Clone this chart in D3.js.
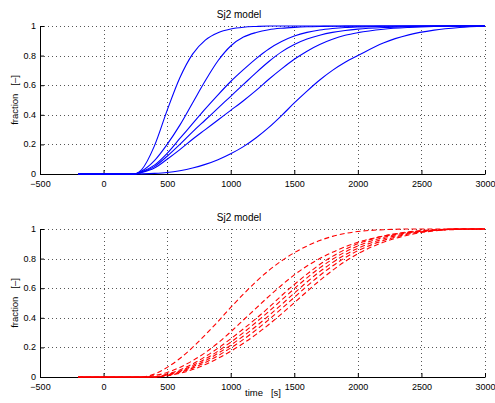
<!DOCTYPE html>
<html>
<head>
<meta charset="utf-8">
<script src="https://cdn.jsdelivr.net/npm/d3@7"></script>
<style>
  body { margin: 0; background: #fff; }
  text { font-family: "Liberation Sans", Arial, sans-serif; fill: #000; }
</style>
</head>
<body>
<svg width="495" height="403"></svg>
<script>
// ticks
const xTicks = [-500, 0, 500, 1000, 1500, 2000, 2500, 3000];
const yTicks = [0, 0.2, 0.4, 0.6, 0.8, 1];

// top panel, solid blue curves
const timeTop = [-200, 0, 240, 300, 400, 500, 600, 700, 800, 900, 1000, 1100, 1200,
  1300, 1400, 1500, 1600, 1700, 1800, 1900, 2000, 2200, 2400, 2600, 2800, 3000];
const topA = [0, 0, 0, 0.03, 0.19, 0.43, 0.65, 0.81, 0.905, 0.955, 0.98, 0.992, 0.997, 1, 1, 1, 1, 1, 1, 1, 1, 1, 1, 1, 1, 1];
const topB = [0, 0, 0, 0.02, 0.09, 0.2, 0.33, 0.48, 0.63, 0.765, 0.865, 0.925, 0.956, 0.975, 0.985, 0.991, 0.995, 0.997, 0.998, 0.999, 1, 1, 1, 1, 1, 1];
const topC = [0, 0, 0, 0.015, 0.06, 0.14, 0.24, 0.34, 0.44, 0.535, 0.625, 0.705, 0.78, 0.845, 0.895, 0.932, 0.957, 0.973, 0.983, 0.99, 0.994, 0.998, 1, 1, 1, 1];
const topD = [0, 0, 0, 0.012, 0.05, 0.12, 0.2, 0.285, 0.365, 0.445, 0.525, 0.605, 0.685, 0.76, 0.825, 0.875, 0.912, 0.938, 0.957, 0.97, 0.979, 0.99, 0.996, 0.999, 1, 1];
const topE = [0, 0, 0, 0.01, 0.04, 0.1, 0.165, 0.235, 0.3, 0.365, 0.43, 0.495, 0.565, 0.64, 0.71, 0.775, 0.83, 0.875, 0.91, 0.937, 0.955, 0.978, 0.99, 0.997, 1, 1];
const topF = [0, 0, 0, 0.001, 0.004, 0.01, 0.022, 0.04, 0.065, 0.097, 0.137, 0.185, 0.245, 0.315, 0.395, 0.48, 0.56, 0.635, 0.7, 0.755, 0.8, 0.885, 0.94, 0.972, 0.99, 1];

// bottom panel, dashed red curves
const timeBottom = [-200, 0, 300, 400, 500, 600, 700, 800, 900, 1000, 1100, 1200, 1300,
  1400, 1500, 1600, 1700, 1800, 1900, 2000, 2200, 2400, 2600, 2800, 3000];
const botA = [0, 0, 0, 0.02, 0.065, 0.125, 0.2, 0.285, 0.375, 0.47, 0.56, 0.645, 0.72, 0.785, 0.84, 0.885, 0.922, 0.95, 0.97, 0.983, 0.995, 1, 1, 1, 1];
const botB = [0, 0, 0, 0.01, 0.03, 0.065, 0.11, 0.165, 0.23, 0.305, 0.385, 0.465, 0.545, 0.62, 0.69, 0.75, 0.8, 0.843, 0.88, 0.91, 0.952, 0.977, 0.99, 0.997, 1];
const botC = [0, 0, 0, 0, 0.02, 0.048, 0.088, 0.138, 0.195, 0.258, 0.325, 0.395, 0.47, 0.55, 0.625, 0.695, 0.76, 0.815, 0.862, 0.9, 0.952, 0.981, 0.995, 1, 1];
const botD = [0, 0, 0, 0, 0.016, 0.04, 0.077, 0.122, 0.175, 0.235, 0.3, 0.37, 0.443, 0.52, 0.597, 0.67, 0.737, 0.795, 0.845, 0.886, 0.943, 0.976, 0.993, 1, 1];
const botE = [0, 0, 0, 0, 0.013, 0.035, 0.068, 0.11, 0.16, 0.215, 0.277, 0.343, 0.415, 0.49, 0.567, 0.642, 0.712, 0.773, 0.826, 0.87, 0.933, 0.971, 0.991, 1, 1];
const botF = [0, 0, 0, 0, 0.01, 0.03, 0.06, 0.098, 0.144, 0.196, 0.254, 0.318, 0.388, 0.462, 0.538, 0.614, 0.686, 0.75, 0.806, 0.853, 0.922, 0.966, 0.99, 1, 1];
const botG = [0, 0, 0, 0, 0.008, 0.025, 0.05, 0.084, 0.126, 0.174, 0.228, 0.288, 0.355, 0.427, 0.502, 0.578, 0.652, 0.72, 0.781, 0.833, 0.91, 0.96, 0.987, 1, 1];

const svg = d3.select("svg");
const left = 40, right = 485;

const x = d3.scaleLinear().domain([-500, 3000]).range([left, right]);

function drawPanel(top, bottom, times, series, color, dash, xlabel, pad) {
  const y = d3.scaleLinear().domain([0, 1]).range([bottom, top]);
  const g = svg.append("g");

  // dotted grid
  g.selectAll(".vgrid").data(xTicks.slice(1)).enter().append("line")
      .attr("x1", d => Math.round(x(d)) + 0.5).attr("x2", d => Math.round(x(d)) + 0.5)
      .attr("y1", top).attr("y2", bottom)
      .attr("stroke", "#555").attr("stroke-dasharray", "1,3");
  g.selectAll(".hgrid").data(yTicks.slice(1)).enter().append("line")
      .attr("x1", left).attr("x2", right)
      .attr("y1", d => Math.round(y(d)) + 0.5).attr("y2", d => Math.round(y(d)) + 0.5)
      .attr("stroke", "#555").attr("stroke-dasharray", "1,3");

  // axes, ticks pointing inward
  const xAxis = d3.axisBottom(x).tickValues(xTicks).tickSizeInner(-4).tickSizeOuter(0)
      .tickPadding(pad).tickFormat(d3.format("d"));
  const ax = g.append("g").attr("transform", "translate(0," + Math.round(bottom) + ")").call(xAxis);
  const yAxis = d3.axisLeft(y).tickValues(yTicks).tickSizeInner(-4).tickSizeOuter(0)
      .tickPadding(4).tickFormat(d => d === 0 || d === 1 ? d : d3.format(".1f")(d));
  const ay = g.append("g").attr("transform", "translate(" + left + ",0)").call(yAxis);
  ay.selectAll("text").attr("dy", "0.28em");
  [ax, ay].forEach(a => {
    a.selectAll("text").attr("font-size", 9).attr("font-family", '"Liberation Sans", Arial, sans-serif');
    a.select(".domain").attr("stroke", "#000");
  });

  // curves, on top of the axis lines
  const line = d3.line()
      .x(d => x(d[0]))
      .y(d => y(d[1]))
      .curve(d3.curveMonotoneX);
  series.forEach((vals, i) => {
    g.append("path")
        .attr("d", line(times.map((t, k) => [t, vals[k]])))
        .attr("fill", "none")
        .attr("stroke", color)
        .attr("stroke-width", 1.1)
        .attr("stroke-dasharray", dash)
        .attr("stroke-dashoffset", dash ? i * 1.3 : null);
  });

  g.append("text")
      .attr("x", 239).attr("y", top - 8)
      .attr("text-anchor", "middle")
      .attr("font-size", 10)
      .text("Sj2 model");

  g.append("text")
      .attr("transform", "translate(18," + (top + bottom) / 2 + ") rotate(-90)")
      .attr("text-anchor", "middle")
      .attr("font-size", 9.5)
      .attr("xml:space", "preserve")
      .text("fraction   [\u2013]");

  if (xlabel) {
    g.append("text")
        .attr("x", 263).attr("y", bottom + 19)
        .attr("text-anchor", "middle")
        .attr("font-size", 9.5)
        .attr("xml:space", "preserve")
        .text(xlabel);
  }
}

drawPanel(26, 174, timeTop, [topA, topB, topC, topD, topE, topF], "#0000ff", null, null, 7);
drawPanel(229, 377, timeBottom, [botA, botB, botC, botD, botE, botF, botG], "#ff0000", "5,3", "time   [s]", 6.5);
</script>
</body>
</html>
